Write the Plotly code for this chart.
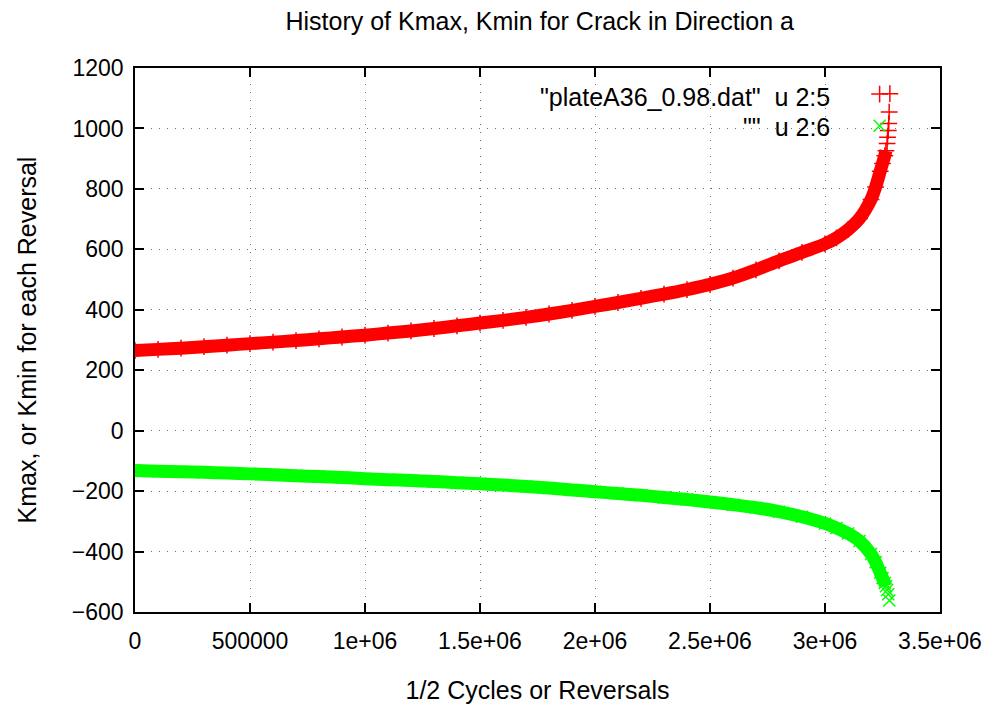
import plotly.graph_objects as go

# ---- data ----
kmax_x = [0, 1e5, 2e5, 3e5, 4e5, 5e5, 6e5, 7e5, 8e5, 9e5, 1.0e6, 1.1e6, 1.2e6, 1.3e6, 1.4e6,
          1.5e6, 1.6e6, 1.7e6, 1.8e6, 1.9e6, 2.0e6, 2.1e6, 2.2e6, 2.3e6, 2.4e6, 2.5e6, 2.6e6,
          2.7e6, 2.8e6, 2.9e6, 3.0e6, 3.05e6, 3.1e6, 3.15e6, 3.2e6, 3.22e6, 3.24e6, 3.25e6,
          3.26e6, 3.265e6]
kmax_y = [265, 269, 273, 278, 283, 288, 293, 298, 304, 310, 316, 323, 330, 338, 347,
          356, 365, 375, 386, 398, 411, 424, 438, 452, 467, 484, 505,
          532, 562, 590, 618, 638, 665, 702, 765, 806, 858, 884,
          910, 926]
kmax_tail_x = [3.27e6, 3.272e6, 3.275e6, 3.277e6, 3.279e6, 3.282e6]
kmax_tail_y = [950, 971, 993, 1016, 1054, 1115]

kmin_x = kmax_x
kmin_y = [-132, -134, -136, -138, -140, -143, -146, -149, -152, -155, -159, -162, -165, -168, -172,
          -176, -180, -185, -190, -196, -202, -208, -214, -221, -228, -236, -245,
          -255, -268, -285, -307, -322, -340, -365, -408, -435, -470, -488,
          -504, -515]
kmin_tail_x = [3.27e6, 3.275e6, 3.28e6]
kmin_tail_y = [-527, -541, -562]

x_ticks = [0, 500000, 1000000, 1500000, 2000000, 2500000, 3000000, 3500000]
x_tick_text = ["0", "500000", "1e+06", "1.5e+06", "2e+06", "2.5e+06", "3e+06", "3.5e+06"]
y_ticks = [-600, -400, -200, 0, 200, 400, 600, 800, 1000, 1200]

legend_labels = ['"plateA36_0.98.dat"  u 2:5', '""  u 2:6']

RED = "#ff0000"
GREEN = "#00ff00"
FONT = "Liberation Sans, Arial, sans-serif"
TXT = 25
TICK = 23

fig = go.Figure()

# Kmax band
fig.add_trace(go.Scatter(x=kmax_x, y=kmax_y, mode="lines+markers",
                         line=dict(color=RED, width=13, shape="spline", smoothing=0.8),
                         marker=dict(symbol="cross-thin", size=12, line=dict(color=RED, width=1.5)),
                         showlegend=False))
fig.add_trace(go.Scatter(x=kmax_tail_x, y=kmax_tail_y, mode="markers",
                         marker=dict(symbol="cross-thin", size=12, line=dict(color=RED, width=1.5)),
                         showlegend=False))
# Kmin band
fig.add_trace(go.Scatter(x=kmin_x, y=kmin_y, mode="lines+markers",
                         line=dict(color=GREEN, width=13, shape="spline", smoothing=0.8),
                         marker=dict(symbol="x-thin", size=12, line=dict(color=GREEN, width=1.5)),
                         showlegend=False))
fig.add_trace(go.Scatter(x=kmin_tail_x, y=kmin_tail_y, mode="markers",
                         marker=dict(symbol="x-thin", size=12, line=dict(color=GREEN, width=1.5)),
                         showlegend=False))

# key samples (gnuplot style: text left, sample right) on an auxiliary 0..1 axis pair
key_x = [0.925, 0.925]
key_y = [0.952, 0.894]
fig.add_trace(go.Scatter(x=[key_x[0]], y=[key_y[0]], xaxis="x2", yaxis="y2", mode="markers",
                         marker=dict(symbol="cross-thin", size=12, line=dict(color=RED, width=1.5)),
                         showlegend=False, hoverinfo="skip"))
fig.add_trace(go.Scatter(x=[key_x[1]], y=[key_y[1]], xaxis="x2", yaxis="y2", mode="markers",
                         marker=dict(symbol="x-thin", size=12, line=dict(color=GREEN, width=1.5)),
                         showlegend=False, hoverinfo="skip"))

for lab, yy in zip(legend_labels, [0.946, 0.891]):
    fig.add_annotation(text=lab, xref="paper", yref="paper", x=0.866, y=yy,
                       xanchor="right", yanchor="middle", showarrow=False,
                       font=dict(family=FONT, size=TXT, color="#000000"))

axis_common = dict(
    showline=True, linecolor="#000000", linewidth=1.5, mirror="ticks",
    ticks="inside", ticklen=9, tickwidth=1.5, tickcolor="#000000",
    showgrid=True, gridcolor="#707070", gridwidth=1.3, griddash="1px,7px",
    zeroline=False, tickfont=dict(family=FONT, size=TICK, color="#000000"),
)

fig.update_layout(
    width=994, height=719, autosize=False,
    margin=dict(l=135, r=51, t=68, b=107),
    paper_bgcolor="#ffffff", plot_bgcolor="#ffffff",
    font=dict(family=FONT, size=TICK, color="#000000"),
    title=dict(text="History of Kmax, Kmin for Crack in Direction a",
               x=0.543, xanchor="center", y=0.971, yanchor="middle",
               font=dict(family=FONT, size=TXT, color="#000000")),
    xaxis=dict(range=[0, 3500000], tickvals=x_ticks, ticktext=x_tick_text,
               ticklabelstandoff=8,
               title=dict(text="1/2 Cycles or Reversals", standoff=28,
                          font=dict(family=FONT, size=TXT)),
               **axis_common),
    yaxis=dict(range=[-600, 1200], tickvals=y_ticks, ticklabelstandoff=5,
               title=dict(text="Kmax, or Kmin for each Reversal", standoff=28,
                          font=dict(family=FONT, size=TXT)),
               **axis_common),
    xaxis2=dict(range=[0, 1], overlaying="x", visible=False),
    yaxis2=dict(range=[0, 1], overlaying="y", visible=False),
)

fig.write_html("out.html")
